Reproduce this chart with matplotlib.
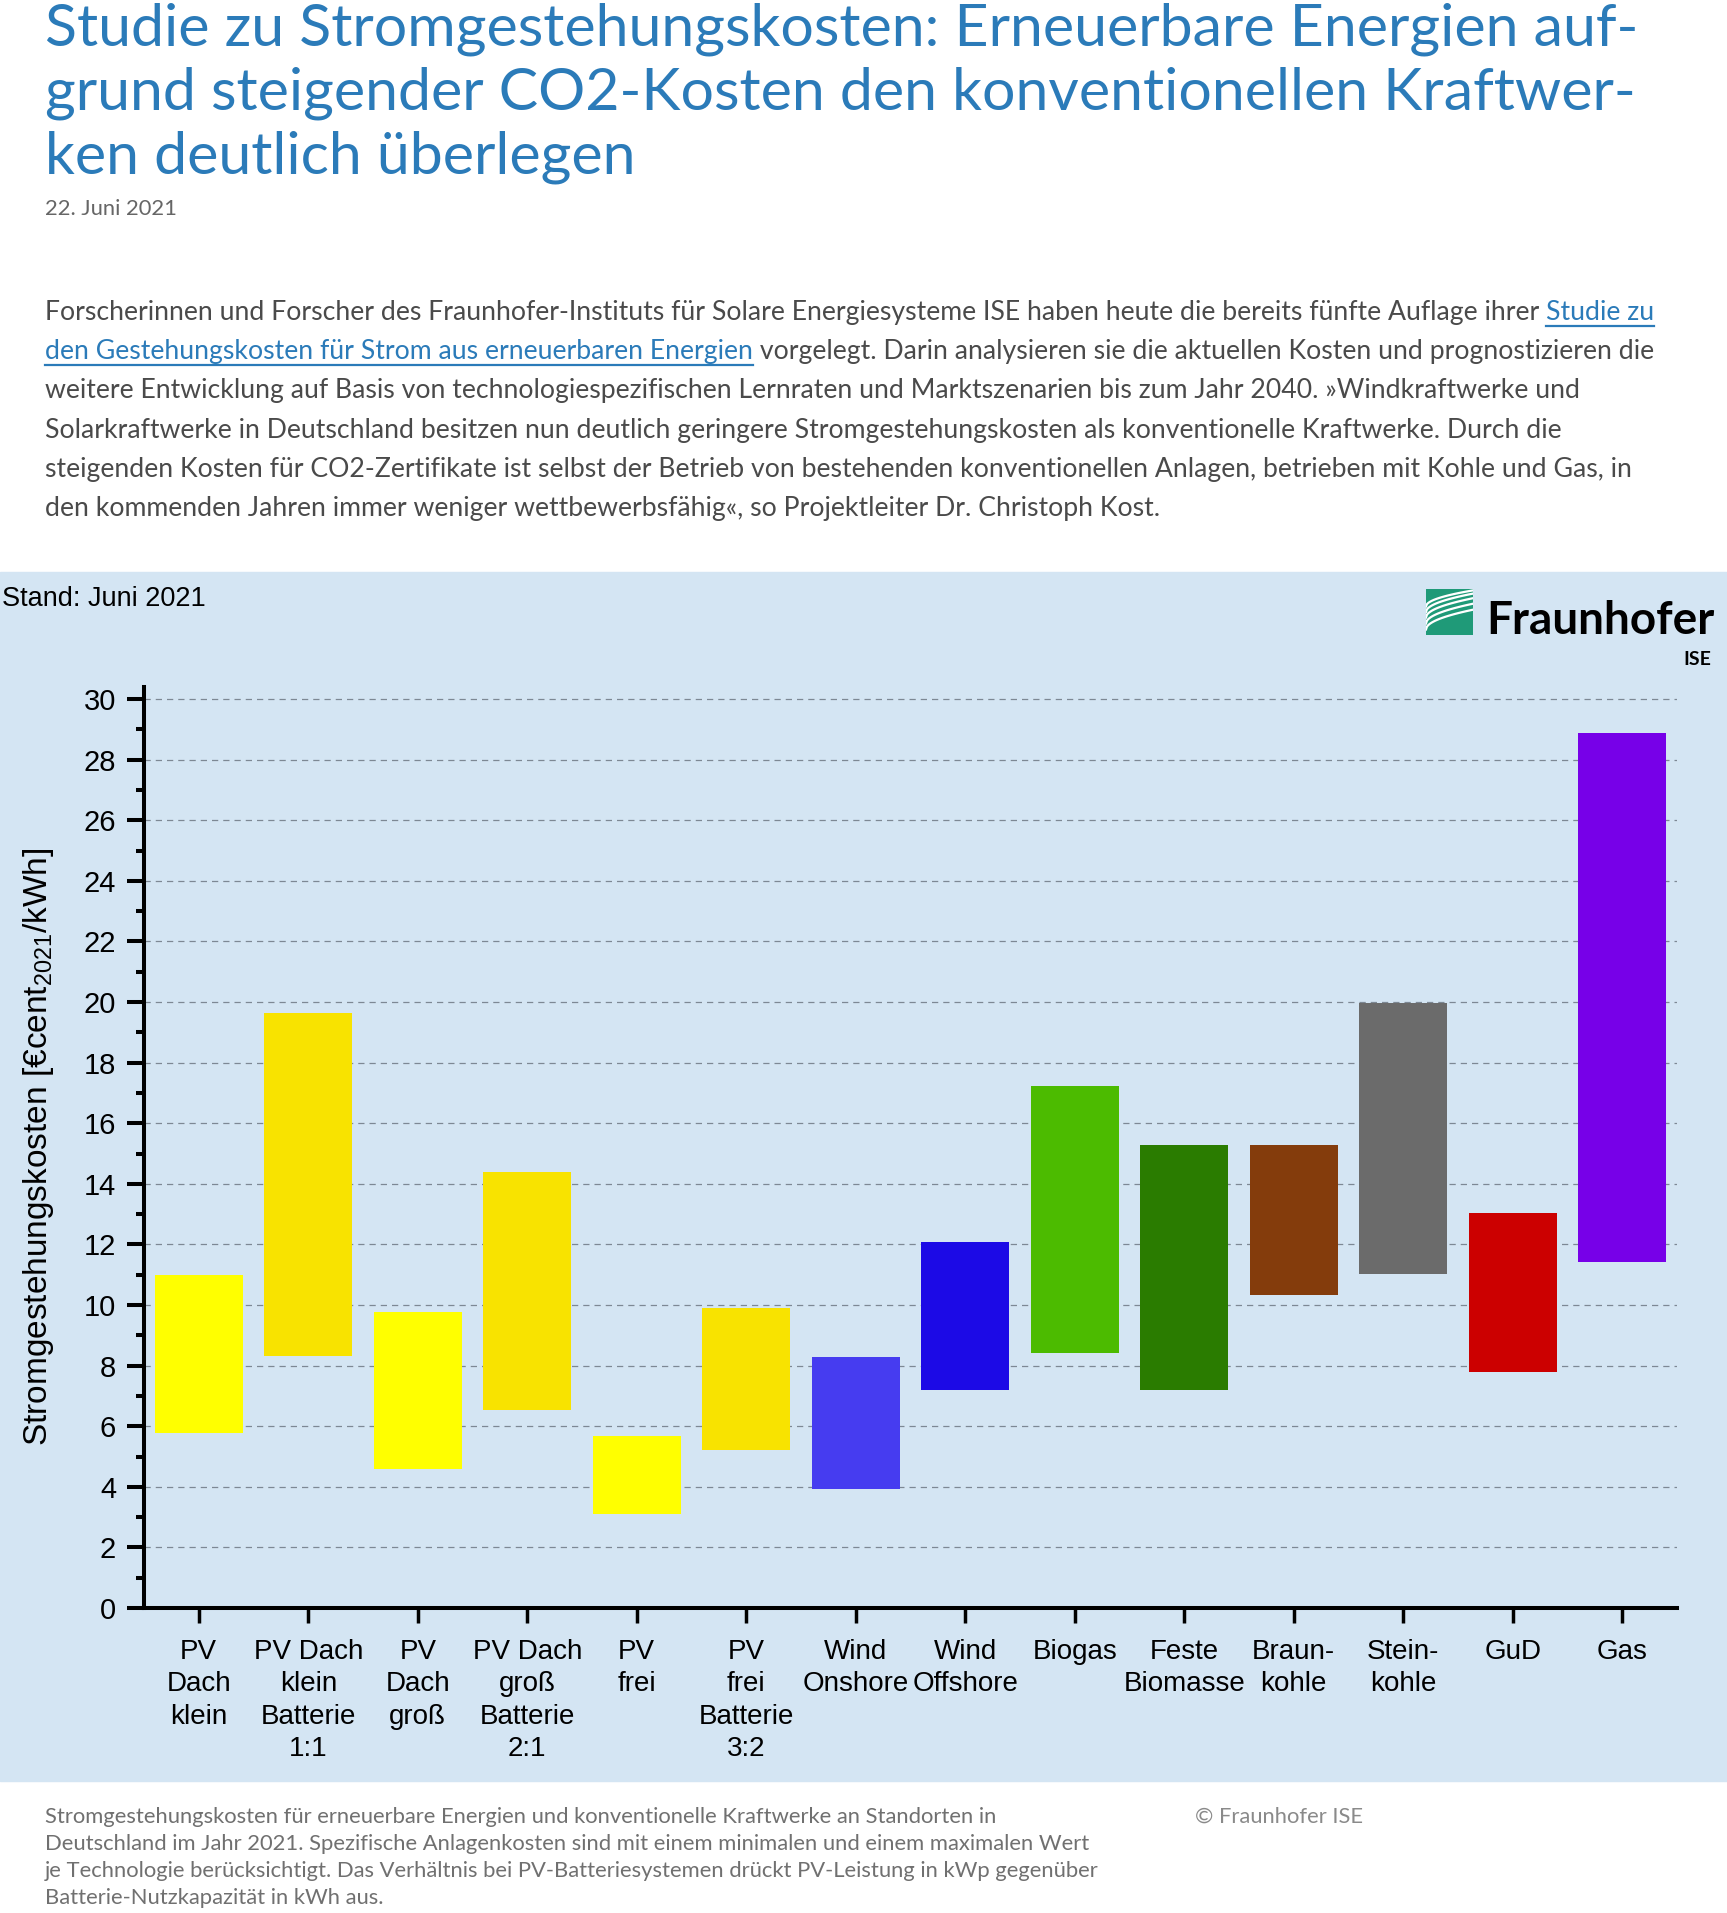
import numpy

import matplotlib
from matplotlib.backends.backend_agg import FigureCanvasAgg as FigureCanvas
from matplotlib.figure import Figure
from matplotlib.patches import Rectangle
from matplotlib.lines import Line2D
from matplotlib.ticker import MultipleLocator

matplotlib.rcParams['mathtext.fontset'] = 'custom'
matplotlib.rcParams['mathtext.rm'] = 'Liberation Sans'
matplotlib.rcParams['mathtext.it'] = 'Liberation Sans'

FIG_W = 1727
FIG_H = 1913

technologies = ['PV\nDach\nklein', 'PV Dach\nklein\nBatterie\n1:1', 'PV\nDach\ngroß',
                'PV Dach\ngroß\nBatterie\n2:1', 'PV\nfrei', 'PV\nfrei\nBatterie\n3:2',
                'Wind\nOnshore', 'Wind\nOffshore', 'Biogas', 'Feste\nBiomasse',
                'Braun-\nkohle', 'Stein-\nkohle', 'GuD', 'Gas']
min_costs = [5.79, 8.31, 4.60, 6.54, 3.10, 5.22, 3.92, 7.21, 8.41, 7.20, 10.34, 11.01, 7.78, 11.42]
max_costs = [11.00, 19.65, 9.76, 14.38, 5.67, 9.90, 8.27, 12.08, 17.24, 15.28, 15.28, 19.98, 13.03, 28.89]
bar_colors = ['#ffff00', '#f8e300', '#ffff00', '#f8e300', '#ffff00', '#f8e300',
              '#463cf0', '#1c0ae6', '#4cbb00', '#2a7c00', '#843c0c', '#6b6b6b',
              '#cc0000', '#7700e8']

title_lines = ['Studie zu Stromgestehungskosten: Erneuerbare Energien auf-',
               'grund steigender CO2-Kosten den konventionellen Kraftwer-',
               'ken deutlich überlegen']
date_text = '22. Juni 2021'
# each line: list of (text, is_link)
paragraph_lines = [
    [('Forscherinnen und Forscher des Fraunhofer-Instituts für Solare Energiesysteme ISE haben heute die bereits fünfte Auflage ihrer ', False),
     ('Studie zu', True)],
    [('den Gestehungskosten für Strom aus erneuerbaren Energien', True),
     (' vorgelegt. Darin analysieren sie die aktuellen Kosten und prognostizieren die', False)],
    [('weitere Entwicklung auf Basis von technologiespezifischen Lernraten und Marktszenarien bis zum Jahr 2040. »Windkraftwerke und', False)],
    [('Solarkraftwerke in Deutschland besitzen nun deutlich geringere Stromgestehungskosten als konventionelle Kraftwerke. Durch die', False)],
    [('steigenden Kosten für CO2-Zertifikate ist selbst der Betrieb von bestehenden konventionellen Anlagen, betrieben mit Kohle und Gas, in', False)],
    [('den kommenden Jahren immer weniger wettbewerbsfähig«, so Projektleiter Dr. Christoph Kost.', False)],
]
caption_lines = ['Stromgestehungskosten für erneuerbare Energien und konventionelle Kraftwerke an Standorten in',
                 'Deutschland im Jahr 2021. Spezifische Anlagenkosten sind mit einem minimalen und einem maximalen Wert',
                 'je Technologie berücksichtigt. Das Verhältnis bei PV-Batteriesystemen drückt PV-Leistung in kWp gegenüber',
                 'Batterie-Nutzkapazität in kWh aus.']

PAGE_FONT = 'Lato'
CHART_FONT = 'Liberation Sans'
TITLE_COLOR = '#2b7bb9'
TEXT_COLOR = '#4a4a4a'
PANEL_COLOR = '#d4e5f3'


def fx(x_px):
    return x_px / FIG_W


def fy(y_px):
    return 1 - y_px / FIG_H


def write_segments(fig, renderer, x_px, y_px, segments, fontsize):
    x_disp = x_px
    for text, is_link in segments:
        color = TITLE_COLOR if is_link else TEXT_COLOR
        text_artist = fig.text(fx(x_disp), fy(y_px), text, color=color, fontsize=fontsize,
                               family=PAGE_FONT, va='baseline', ha='left')
        bbox = text_artist.get_window_extent(renderer)
        if is_link:
            fig.add_artist(Line2D([bbox.x0 / FIG_W, bbox.x1 / FIG_W],
                                  [fy(y_px + 6), fy(y_px + 6)],
                                  transform=fig.transFigure, color=color, lw=1.6))
        x_disp = bbox.x1


def draw_page_text(fig, renderer):
    for num, line in enumerate(title_lines):
        fig.text(fx(45), fy(46 + num * 63.5), line, color=TITLE_COLOR, fontsize=42.5,
                 family=PAGE_FONT, va='baseline')
    fig.text(fx(45), fy(215), date_text, color='#666666', fontsize=15.8, family=PAGE_FONT,
             va='baseline')
    for num, segments in enumerate(paragraph_lines):
        write_segments(fig, renderer, 45, 320 + num * 39.2, segments, 19.2)
    for num, line in enumerate(caption_lines):
        fig.text(fx(45), fy(1823 + num * 27), line, color='#707070', fontsize=15.8,
                 family=PAGE_FONT, va='baseline')
    fig.text(fx(1195), fy(1823), '© Fraunhofer ISE', color='#8a8a8a', fontsize=15.8,
             family=PAGE_FONT, va='baseline')


def draw_logo(fig):
    logo_axes = fig.add_axes([fx(1426), fy(635), (1473 - 1426) / FIG_W, (635 - 589) / FIG_H])
    logo_axes.set_axis_off()
    logo_axes.set_xlim(0, 1)
    logo_axes.set_ylim(0, 1)
    logo_axes.add_patch(Rectangle((0, 0), 1, 1, color='#1f9a78'))
    xs = numpy.linspace(0, 1, 50)
    for start, end in [(0.12, 0.55), (0.25, 0.68), (0.38, 0.8), (0.5, 0.9), (0.62, 0.97)]:
        ys = start + (end - start) * numpy.sqrt(xs)
        logo_axes.plot(xs, ys, color='white', lw=1.6)
    fig.text(fx(1486), fy(634), 'Fraunhofer', fontsize=33, fontweight='bold',
             family=PAGE_FONT, color='black', va='baseline')
    fig.text(fx(1711), fy(665), 'ISE', fontsize=14, fontweight='bold',
             family=PAGE_FONT, color='black', va='baseline', ha='right')


def plot_costs(fig):
    axes = fig.add_axes([fx(144), fy(1608), (1677 - 144) / FIG_W, (1608 - 687) / FIG_H])
    axes.set_facecolor(PANEL_COLOR)

    x_poss = numpy.arange(len(technologies))
    lows = numpy.array(min_costs)
    highs = numpy.array(max_costs)
    axes.bar(x_poss, highs - lows, bottom=lows, width=0.8, color=bar_colors, zorder=3)

    axes.set_xlim(-0.5, len(technologies) - 0.5)
    axes.set_ylim(0, 30.4)
    axes.yaxis.set_major_locator(MultipleLocator(2))
    axes.yaxis.set_minor_locator(MultipleLocator(1))
    axes.grid(axis='y', which='major', color='#7d8894', lw=0.9, linestyle=(0, (5, 4)), zorder=1)

    for side in ['top', 'right']:
        axes.spines[side].set_visible(False)
    for side in ['left', 'bottom']:
        axes.spines[side].set_linewidth(2.9)

    axes.set_xticks(x_poss)
    axes.set_xticklabels(technologies, fontsize=20, family=CHART_FONT, linespacing=1.33)
    axes.tick_params(axis='x', direction='out', length=11, width=2.5, pad=11)
    axes.tick_params(axis='y', which='major', direction='out', length=12, width=2.9, pad=8,
                     labelsize=21)
    axes.tick_params(axis='y', which='minor', direction='out', length=5.5, width=2.9)
    for label in axes.get_yticklabels():
        label.set_family(CHART_FONT)

    fig.text(fx(39), fy(1147), 'Stromgestehungskosten [€cent$_{2021}$/kWh]', rotation=90,
             fontsize=24, family=CHART_FONT, va='center', ha='center')
    fig.text(fx(2), fy(606), 'Stand: Juni 2021', fontsize=19.5, family=CHART_FONT,
             va='baseline', ha='left')


if __name__ == '__main__':
    fig = Figure(figsize=(FIG_W / 100, FIG_H / 100), dpi=100)
    canvas = FigureCanvas(fig)  # needed for the renderer
    fig.patch.set_facecolor('white')
    fig.add_artist(Rectangle((0, fy(1781)), 1, (1781 - 572) / FIG_H, transform=fig.transFigure,
                             color=PANEL_COLOR, zorder=0))
    renderer = canvas.get_renderer()

    draw_page_text(fig, renderer)
    plot_costs(fig)
    draw_logo(fig)

    fig.savefig('out.png', dpi=100)
